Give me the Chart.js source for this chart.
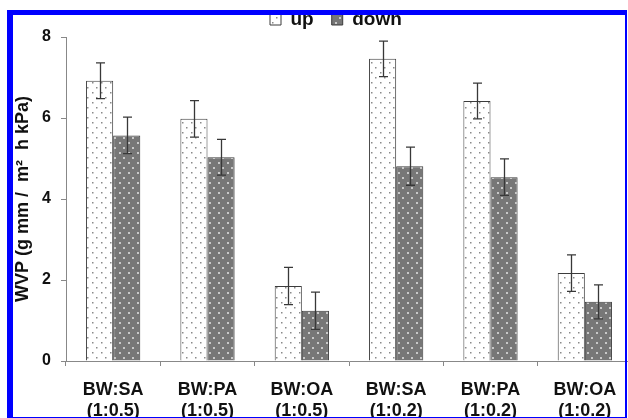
<!DOCTYPE html>
<html>
<head>
<meta charset="utf-8">
<script src="https://cdn.jsdelivr.net/npm/chart.js@4/dist/chart.umd.min.js"></script>
<style>
  html, body { margin: 0; padding: 0; background: #fff; overflow: hidden; width: 628px; height: 418px; }
  #wrap { position: absolute; left: 0; top: 0; width: 640px; height: 440px; }
  #frame {
    position: absolute; left: 7px; top: 10px; width: 620px; height: 408px;
    box-sizing: border-box; pointer-events: none;
    border-top: 5px solid #0000ff; border-left: 6px solid #0000ff;
    border-right: 2px solid #0000ff; border-bottom: 1px solid #0000ff;
  }
</style>
</head>
<body>
<div id="wrap"><canvas id="c" width="640" height="440"></canvas></div>
<div id="frame"></div>
<script>
// Water vapour permeability, measured with the film facing up / down
const categories = [
  ['BW:SA', '(1:0.5)'], ['BW:PA', '(1:0.5)'], ['BW:OA', '(1:0.5)'],
  ['BW:SA', '(1:0.2)'], ['BW:PA', '(1:0.2)'], ['BW:OA', '(1:0.2)']
];
const upValues   = [6.92, 5.98, 1.85, 7.46, 6.42, 2.17];
const upErrors   = [0.44, 0.45, 0.46, 0.44, 0.44, 0.45];
const downValues = [5.57, 5.03, 1.24, 4.81, 4.54, 1.46];
const downErrors = [0.45, 0.44, 0.46, 0.47, 0.45, 0.42];
const yTicks = [0, 2, 4, 6, 8];

const FONT = "'Liberation Sans', Arial, Helvetica, sans-serif";
const NARROW = "'Liberation Sans Narrow', 'Arial Narrow', " + FONT;

// Dotted fills for the two series
function makePattern(bg, dot, w, h, dots) {
  const c = document.createElement('canvas');
  c.width = w; c.height = h;
  const g = c.getContext('2d');
  g.fillStyle = bg; g.fillRect(0, 0, w, h);
  g.fillStyle = dot;
  dots.forEach(([x, y, s]) => g.fillRect(x, y, s, s));
  return g.createPattern(c, 'repeat');
}
const ctx = document.getElementById('c').getContext('2d');
const upFill = makePattern('#ffffff', '#8a8a8a', 9, 10, [[2, 2, 1.5], [6, 7, 1.5]]);
const downFill = makePattern('#777777', '#c9c9c9', 9, 10, [[2, 2, 2], [6, 7, 2]]);

const errorBars = {
  id: 'errorBars',
  afterDatasetsDraw(chart) {
    const y = chart.scales.y;
    const g = chart.ctx;
    const errs = [upErrors, downErrors];
    g.save();
    g.strokeStyle = '#383838';
    g.lineWidth = 1.3;
    chart.data.datasets.forEach((ds, di) => {
      chart.getDatasetMeta(di).data.forEach((bar, i) => {
        const v = ds.data[i], e = errs[di][i];
        const top = y.getPixelForValue(v + e), bot = y.getPixelForValue(v - e);
        const x = Math.round(bar.x) + 0.5;
        g.beginPath();
        g.moveTo(x, top); g.lineTo(x, bot);
        g.moveTo(x - 4.5, top); g.lineTo(x + 4.5, top);
        g.moveTo(x - 4.5, bot); g.lineTo(x + 4.5, bot);
        g.stroke();
      });
    });
    g.restore();
  }
};

// Legend sits in the top strip, partly under the frame
const legendPlace = {
  id: 'legendPlace',
  afterLayout(chart) {
    const lg = chart.legend;
    lg.left = 252;
    lg.top = -8;
  }
};

new Chart(ctx, {
  type: 'bar',
  data: {
    labels: categories,
    datasets: [
      { label: 'up', data: upValues, backgroundColor: upFill, borderColor: '#3c3c3c', borderWidth: 1 },
      { label: 'down', data: downValues, backgroundColor: downFill, borderColor: '#3c3c3c', borderWidth: 1 }
    ]
  },
  options: {
    responsive: false,
    devicePixelRatio: 1,
    animation: false,
    layout: { padding: { left: 8, right: 8, top: 0, bottom: 0 } },
    datasets: { bar: { categoryPercentage: 0.575, barPercentage: 1.0 } },
    plugins: {
      tooltip: { enabled: false },
      legend: {
        position: 'top',
        align: 'start',
        maxHeight: 37,
        labels: {
          boxWidth: 11, boxHeight: 11, padding: 18, color: '#111',
          font: { family: FONT, size: 19, weight: 'bold' }
        }
      }
    },
    scales: {
      x: {
        afterFit(s) { s.height = 79; },
        grid: { drawOnChartArea: false, drawTicks: true, tickLength: 5, color: '#888', offset: true },
        border: { color: '#888', width: 1 },
        ticks: {
          color: '#111', padding: 13, maxRotation: 0, autoSkip: false,
          font: { family: NARROW, size: 18, weight: 'bold', lineHeight: 1.2 }
        }
      },
      y: {
        min: 0, max: 8,
        afterFit(s) { s.width = 58; },
        afterBuildTicks(s) { s.ticks = yTicks.map(v => ({ value: v })); },
        grid: { drawOnChartArea: false, drawTicks: true, tickLength: 5, color: '#888' },
        border: { color: '#888', width: 1 },
        ticks: {
          color: '#111', padding: 10,
          font: { family: FONT, size: 16, weight: 'bold' }
        },
        title: {
          display: true,
          text: 'WVP (g mm /  m²  h kPa)',
          color: '#111',
          padding: { top: 4, bottom: 4 },
          font: { family: FONT, size: 18, weight: 'bold', lineHeight: 1.2 }
        }
      }
    }
  },
  plugins: [errorBars, legendPlace]
});
</script>
</body>
</html>
